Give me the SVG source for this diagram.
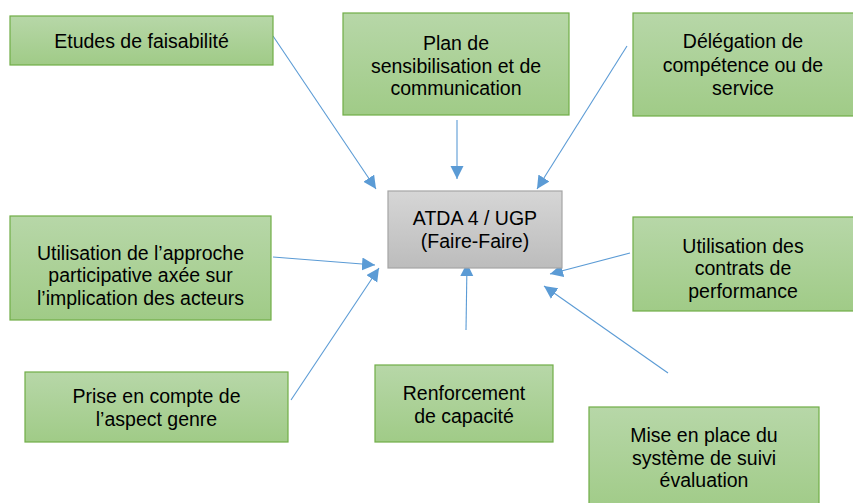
<svg xmlns="http://www.w3.org/2000/svg" width="853" height="503" viewBox="0 0 853 503">
<defs>
<linearGradient id="gGreen" x1="0" y1="0" x2="0" y2="1">
<stop offset="0" stop-color="#B7D7A8"/>
<stop offset="1" stop-color="#A0CB87"/>
</linearGradient>
<linearGradient id="gGray" x1="0" y1="0" x2="0" y2="1">
<stop offset="0" stop-color="#D6D6D6"/>
<stop offset="1" stop-color="#BCBCBC"/>
</linearGradient>
<marker id="ah" markerWidth="14" markerHeight="14" refX="13" refY="6.5" orient="auto" markerUnits="userSpaceOnUse">
<path d="M0,0 L13,6.5 L0,13 z" fill="#5B9BD5"/>
</marker>
</defs>
<style>
.g{fill:url(#gGreen);stroke:#70AD47;stroke-width:1.2}
.c{fill:url(#gGray);stroke:#A5A5A5;stroke-width:1.2}
text{font-family:"Liberation Sans",Arial,sans-serif;font-size:19.5px;fill:#000;text-anchor:middle}
.l{stroke:#5B9BD5;stroke-width:1.1;fill:none;marker-end:url(#ah)}
</style>
<rect width="853" height="503" fill="#fff"/>
<g id="connectors">
<line class="l" x1="273" y1="36" x2="376" y2="189"/>
<line class="l" x1="457" y1="120" x2="457" y2="179"/>
<line class="l" x1="627" y1="46" x2="537" y2="189"/>
<line class="l" x1="273" y1="257" x2="375" y2="265"/>
<line class="l" x1="291" y1="400" x2="379" y2="268"/>
<line class="l" x1="466" y1="330" x2="467" y2="263"/>
<line class="l" x1="630" y1="253" x2="550" y2="274"/>
<line class="l" x1="668" y1="373" x2="544" y2="286"/>
</g>
<g id="n1"><rect class="g" x="10" y="16" width="263" height="49"/><text x="141.5" y="48">Etudes de faisabilité</text></g>
<g id="n2"><rect class="g" x="343" y="13" width="226" height="102"/><text x="456" y="50">Plan de</text><text x="456" y="72.5">sensibilisation et de</text><text x="456" y="95">communication</text></g>
<g id="n3"><rect class="g" x="633" y="13" width="222" height="103"/><text x="743" y="48">Délégation de</text><text x="743" y="71.5">compétence ou de</text><text x="743" y="95">service</text></g>
<g id="center"><rect class="c" x="388" y="191" width="174" height="77"/><text x="475" y="225">ATDA 4 / UGP</text><text x="475" y="247.5">(Faire-Faire)</text></g>
<g id="n4"><rect class="g" x="10" y="216" width="261" height="104"/><text x="140.5" y="259.5">Utilisation de l’approche</text><text x="140.5" y="282">participative axée sur</text><text x="140.5" y="304.5">l’implication des acteurs</text></g>
<g id="n5"><rect class="g" x="633" y="217" width="222" height="94"/><text x="743" y="252.5">Utilisation des</text><text x="743" y="275">contrats de</text><text x="743" y="297.5">performance</text></g>
<g id="n6"><rect class="g" x="25" y="372" width="263" height="70"/><text x="156.5" y="403">Prise en compte de</text><text x="156.5" y="425.5">l’aspect genre</text></g>
<g id="n7"><rect class="g" x="375" y="365" width="178" height="77"/><text x="464" y="400">Renforcement</text><text x="464" y="422.5">de capacité</text></g>
<g id="n8"><rect class="g" x="589" y="407" width="230" height="105"/><text x="704" y="442">Mise en place du</text><text x="704" y="464.5">système de suivi</text><text x="704" y="487">évaluation</text></g>
</svg>
